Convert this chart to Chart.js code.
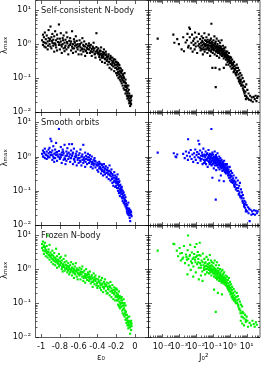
<!DOCTYPE html>
<html><head><meta charset="utf-8">
<script src="https://cdn.jsdelivr.net/npm/chart.js@4.4.1/dist/chart.umd.min.js"></script>
<style>
html,body{margin:0;padding:0;background:#fff;}
#wrap{position:relative;width:261px;height:368px;overflow:hidden;background:#fff;}
#wrap canvas{position:absolute;left:0;}
</style></head><body><div id="wrap"></div>
<script>
// ---------- data ----------
const panelTitles = ['Self-consistent N-body', 'Smooth orbits', 'Frozen N-body'];
const epsTickValues = [-1, -0.8, -0.6, -0.4, -0.2, 0];
const epsTickLabels = ['-1', '-0.8', '-0.6', '-0.4', '-0.2', '0'];
const j2TickValues = [1e-4, 1e-3, 1e-2, 1e-1, 1, 10];
const j2TickLabels = ['10⁻⁴', '10⁻³', '10⁻²', '10⁻¹', '10⁰', '10¹'];
const lamTickValues = [0.01, 0.1, 1, 10];
const lamTickLabels = ['10⁻²', '10⁻¹', '10⁰', '10¹'];
const yTitle = 'λₘₐₓ';
const xTitleEps = 'ε₀';
const xTitleJ2 = 'J₀²';

// Self-consistent N-body: [eps0, lambda_max]
const selfEps = [
[-0.99,1.3],[-0.98,1.9],[-0.98,0.95],[-0.97,1.6],[-0.96,1.1],[-0.96,2.2],[-0.95,1.4],[-0.95,0.8],[-0.94,1.8],[-0.93,1.2],[-0.93,0.7],[-0.92,2.6],[-0.92,1.5],[-0.91,1.0],[-0.90,3.3],[-0.90,0.85],[-0.91,1.25],
[-0.89,1.6],[-0.89,0.75],[-0.88,1.1],[-0.88,2.0],[-0.87,0.9],[-0.87,1.35],[-0.86,0.6],[-0.86,1.7],[-0.85,1.05],[-0.85,2.4],[-0.84,0.8],[-0.84,1.3],[-0.83,1.9],[-0.83,0.65],[-0.82,1.15],[-0.81,3.8],[-0.81,0.95],[-0.80,1.45],[-0.80,0.7],
[-0.79,1.2],[-0.79,2.1],[-0.78,0.85],[-0.78,0.55],[-0.77,1.5],[-0.77,1.0],[-0.76,0.75],[-0.76,1.8],[-0.75,1.1],[-0.75,0.62],[-0.74,1.35],[-0.74,0.9],[-0.73,2.2],[-0.73,0.7],[-0.72,1.05],[-0.72,1.6],[-0.71,0.8],[-0.71,0.5],[-0.70,1.25],
[-0.69,0.95],[-0.69,1.5],[-0.68,0.65],[-0.68,1.2],[-0.67,2.4],[-0.67,0.85],[-0.66,1.0],[-0.66,0.55],[-0.65,1.4],[-0.65,0.75],[-0.64,1.1],[-0.64,0.9],[-0.63,1.7],[-0.63,0.6],[-0.62,0.8],[-0.62,1.25],[-0.61,0.7],[-0.61,1.0],[-0.60,0.5],
[-0.59,0.9],[-0.59,1.3],[-0.58,0.65],[-0.58,0.8],[-0.57,1.1],[-0.57,0.5],[-0.56,0.75],[-0.56,1.5],[-0.55,0.95],[-0.55,0.6],[-0.54,0.7],[-0.54,1.2],[-0.53,0.85],[-0.53,0.45],[-0.52,0.65],[-0.52,1.0],[-0.51,0.78],[-0.51,0.55],[-0.50,0.9],
[-0.49,0.7],[-0.49,1.05],[-0.48,0.55],[-0.48,0.8],[-0.47,0.62],[-0.47,0.95],[-0.46,0.45],[-0.46,0.72],[-0.45,0.85],[-0.45,0.58],[-0.44,0.66],[-0.44,1.1],[-0.43,0.5],[-0.43,0.75],[-0.42,0.6],[-0.42,0.4],[-0.41,0.82],[-0.41,2.1],[-0.40,0.55],[-0.40,0.68],
[-0.39,0.5],[-0.39,0.75],[-0.38,0.42],[-0.38,0.6],[-0.37,0.65],[-0.37,0.35],[-0.36,0.52],[-0.36,0.8],[-0.35,0.45],[-0.35,0.3],[-0.34,0.58],[-0.34,0.4],[-0.33,0.5],[-0.33,0.7],[-0.32,0.36],[-0.32,0.28],[-0.31,0.48],[-0.31,0.6],[-0.30,0.32],[-0.30,0.42],
[-0.29,0.4],[-0.29,0.25],[-0.28,0.5],[-0.28,0.3],[-0.27,0.2],[-0.27,0.38],[-0.26,0.45],[-0.26,0.26],[-0.25,0.33],[-0.25,0.18],[-0.24,0.28],[-0.24,0.4],[-0.23,0.22],[-0.23,0.32],[-0.22,0.16],[-0.22,0.27],[-0.21,0.35],[-0.21,0.2],[-0.20,0.25],[-0.20,0.14],
[-0.195,0.3],[-0.19,0.18],[-0.19,0.12],[-0.185,0.22],[-0.18,0.15],[-0.18,0.28],[-0.175,0.1],[-0.17,0.2],[-0.17,0.13],[-0.165,0.24],[-0.16,0.09],[-0.16,0.16],[-0.155,0.12],[-0.15,0.19],[-0.15,0.08],
[-0.145,0.14],[-0.14,0.07],[-0.14,0.1],[-0.135,0.17],[-0.13,0.06],[-0.13,0.12],[-0.125,0.085],[-0.12,0.05],[-0.12,0.11],[-0.115,0.075],[-0.11,0.14],[-0.11,0.045],[-0.105,0.06],[-0.10,0.09],[-0.10,0.035],
[-0.095,0.07],[-0.09,0.04],[-0.09,0.055],[-0.085,0.03],[-0.08,0.05],[-0.08,0.025],[-0.075,0.04],[-0.07,0.028],[-0.07,0.06],[-0.065,0.022],[-0.06,0.035],[-0.06,0.018],[-0.055,0.03],[-0.05,0.02],[-0.05,0.015],[-0.045,0.026],[-0.04,0.022],[-0.035,0.03],[-0.04,0.017],
[-0.975,1.15],[-0.965,0.85],[-0.945,1.05],[-0.925,0.9],[-0.905,1.4],[-0.885,1.25],[-0.865,1.05],[-0.845,0.95],[-0.825,1.45],[-0.805,1.1],[-0.785,0.95],[-0.765,1.3],[-0.745,0.8],[-0.725,1.15],[-0.705,0.9],[-0.685,1.05],[-0.665,0.75],[-0.645,1.2],[-0.625,0.95],[-0.605,0.85],[-0.585,1.0],[-0.565,0.7],[-0.545,0.88],[-0.525,0.62],[-0.505,0.72],[-0.485,0.9],[-0.465,0.6],[-0.445,0.78],[-0.425,0.52],[-0.405,0.62],[-0.385,0.55],[-0.375,0.48],[-0.365,0.62],[-0.355,0.4],[-0.345,0.5],[-0.335,0.44],[-0.325,0.55],[-0.315,0.38],[-0.305,0.5],[-0.295,0.35],[-0.285,0.44],[-0.275,0.3],[-0.265,0.36],[-0.255,0.4],[-0.245,0.24],[-0.235,0.3],[-0.225,0.36],[-0.215,0.24],[-0.205,0.3],[-0.2,0.2],[-0.19,0.25],[-0.185,0.14],[-0.175,0.18],[-0.17,0.25],[-0.165,0.11],[-0.16,0.2],[-0.155,0.15],[-0.145,0.11],[-0.14,0.16],[-0.135,0.09],[-0.125,0.13],[-0.12,0.08],[-0.115,0.1],[-0.105,0.075],[-0.1,0.055],[-0.095,0.045],[-0.085,0.06],[-0.08,0.035],[-0.075,0.03],[-0.065,0.045],[-0.06,0.025],[-0.055,0.02],[-0.045,0.018],[-0.04,0.028]
];

// Smooth orbits: [eps0, lambda_max]
const smoothEps = [
[-0.99,1.2],[-0.98,1.5],[-0.98,1.0],[-0.97,1.35],[-0.96,0.9],[-0.96,1.7],[-0.95,1.15],[-0.94,1.4],[-0.94,0.85],[-0.93,1.05],[-0.92,1.6],[-0.92,1.25],[-0.91,0.95],[-0.90,3.3],[-0.90,1.1],[-0.91,1.8],
[-0.89,2.8],[-0.89,1.3],[-0.88,0.8],[-0.88,1.5],[-0.87,1.0],[-0.87,2.0],[-0.86,1.2],[-0.86,0.7],[-0.85,1.6],[-0.85,0.9],[-0.84,1.1],[-0.84,2.5],[-0.83,0.75],[-0.83,1.35],[-0.82,1.0],[-0.81,6.4],[-0.81,1.45],[-0.80,0.85],[-0.80,1.15],
[-0.79,1.9],[-0.79,0.95],[-0.78,1.3],[-0.78,0.65],[-0.77,1.1],[-0.77,1.6],[-0.76,0.8],[-0.76,1.25],[-0.75,2.2],[-0.75,0.9],[-0.74,1.05],[-0.74,0.6],[-0.73,1.4],[-0.73,0.75],[-0.72,1.2],[-0.72,1.75],[-0.71,0.85],[-0.70,1.0],[-0.70,2.3],
[-0.69,1.15],[-0.69,0.7],[-0.68,1.5],[-0.68,0.9],[-0.67,2.3],[-0.67,1.05],[-0.66,0.6],[-0.66,1.3],[-0.65,0.85],[-0.65,1.7],[-0.64,1.0],[-0.64,0.7],[-0.63,1.2],[-0.63,0.95],[-0.62,0.55],[-0.62,1.4],[-0.61,0.8],[-0.60,1.1],[-0.60,0.65],
[-0.59,0.9],[-0.59,1.25],[-0.58,0.7],[-0.58,1.6],[-0.57,1.0],[-0.57,0.55],[-0.56,0.8],[-0.56,1.15],[-0.55,2.2],[-0.55,0.65],[-0.54,0.95],[-0.54,0.75],[-0.53,1.3],[-0.53,0.5],[-0.52,0.85],[-0.52,1.05],[-0.51,0.6],[-0.50,0.8],[-0.50,1.2],
[-0.49,0.65],[-0.49,0.95],[-0.48,0.75],[-0.48,1.1],[-0.47,0.5],[-0.47,0.85],[-0.46,0.6],[-0.46,1.0],[-0.45,0.7],[-0.45,0.45],[-0.44,0.8],[-0.44,0.55],[-0.43,0.9],[-0.43,0.62],[-0.42,0.48],[-0.42,0.72],[-0.41,0.58],[-0.40,0.4],[-0.40,0.66],
[-0.39,0.55],[-0.39,0.36],[-0.38,0.7],[-0.38,0.45],[-0.37,0.5],[-0.37,0.62],[-0.36,0.32],[-0.36,0.42],[-0.35,0.56],[-0.35,0.38],[-0.34,0.48],[-0.34,0.28],[-0.33,0.6],[-0.33,0.35],[-0.32,0.44],[-0.32,0.3],[-0.31,0.52],[-0.30,0.25],[-0.30,0.4],
[-0.29,0.34],[-0.29,0.47],[-0.28,0.22],[-0.28,0.38],[-0.27,0.3],[-0.27,0.55],[-0.26,0.2],[-0.26,0.36],[-0.25,0.26],[-0.25,0.42],[-0.24,0.17],[-0.24,0.31],[-0.23,0.24],[-0.23,0.14],[-0.22,0.35],[-0.22,0.2],[-0.21,0.28],[-0.21,0.13],[-0.20,0.22],[-0.20,0.17],
[-0.195,0.25],[-0.19,0.12],[-0.19,0.18],[-0.185,0.3],[-0.18,0.1],[-0.18,0.16],[-0.175,0.22],[-0.17,0.085],[-0.17,0.14],[-0.165,0.19],[-0.16,0.11],[-0.16,0.07],[-0.155,0.15],[-0.15,0.09],[-0.15,0.12],
[-0.145,0.1],[-0.14,0.065],[-0.14,0.13],[-0.135,0.08],[-0.13,0.05],[-0.13,0.1],[-0.125,0.07],[-0.12,0.045],[-0.12,0.09],[-0.115,0.06],[-0.11,0.04],[-0.11,0.075],[-0.105,0.055],[-0.10,0.035],[-0.10,0.065],
[-0.095,0.05],[-0.09,0.03],[-0.09,0.042],[-0.085,0.025],[-0.08,0.038],[-0.08,0.022],[-0.075,0.03],[-0.07,0.02],[-0.07,0.045],[-0.065,0.026],[-0.06,0.019],[-0.06,0.03],[-0.055,0.022],[-0.05,0.013],[-0.05,0.027],[-0.045,0.02],[-0.04,0.024],[-0.035,0.018],
[-0.975,1.0],[-0.965,1.25],[-0.945,1.1],[-0.925,0.95],[-0.905,1.35],[-0.885,1.1],[-0.865,0.9],[-0.845,1.3],[-0.825,1.15],[-0.805,0.95],[-0.785,1.1],[-0.765,1.4],[-0.745,0.85],[-0.725,1.05],[-0.705,1.3],[-0.685,0.9],[-0.665,1.2],[-0.645,0.8],[-0.625,1.05],[-0.605,0.9],[-0.585,0.75],[-0.565,1.0],[-0.545,0.85],[-0.525,0.7],[-0.505,0.95],[-0.485,0.8],[-0.465,0.7],[-0.445,0.62],[-0.425,0.75],[-0.405,0.55],[-0.385,0.6],[-0.375,0.5],[-0.365,0.45],[-0.355,0.6],[-0.345,0.4],[-0.335,0.5],[-0.325,0.38],[-0.315,0.45],[-0.305,0.33],[-0.295,0.4],[-0.285,0.3],[-0.275,0.38],[-0.265,0.28],[-0.255,0.33],[-0.245,0.22],[-0.235,0.28],[-0.225,0.18],[-0.215,0.24],[-0.205,0.19],[-0.2,0.14],[-0.19,0.21],[-0.185,0.15],[-0.175,0.12],[-0.17,0.18],[-0.165,0.09],[-0.16,0.14],[-0.155,0.1],[-0.145,0.08],[-0.14,0.11],[-0.135,0.06],[-0.125,0.085],[-0.12,0.06],[-0.115,0.045],[-0.105,0.05],[-0.1,0.042],[-0.095,0.035],[-0.085,0.032],[-0.08,0.028],[-0.075,0.022],[-0.065,0.03],[-0.06,0.024],[-0.055,0.016],[-0.045,0.025],[-0.04,0.02]
];

// Frozen N-body: [eps0, lambda_max]
const frozenEps = [
[-0.99,5.5],[-0.99,4.2],[-0.98,6.5],[-0.98,3.6],[-0.97,5.0],[-0.97,2.8],[-0.96,4.5],[-0.96,6.0],[-0.95,3.3],[-0.95,2.4],[-0.94,4.8],[-0.94,3.0],[-0.93,9.8],[-0.93,2.2],[-0.92,3.8],[-0.92,2.6],[-0.91,5.2],[-0.91,1.9],[-0.90,3.1],[-0.90,2.3],
[-0.89,2.7],[-0.89,1.6],[-0.88,3.5],[-0.88,2.0],[-0.87,1.4],[-0.87,2.5],[-0.86,1.8],[-0.86,3.0],[-0.85,1.3],[-0.85,2.2],[-0.84,1.6],[-0.84,4.0],[-0.83,2.4],[-0.83,1.1],[-0.82,1.9],[-0.82,1.45],[-0.81,2.8],[-0.81,1.2],[-0.80,1.7],[-0.80,2.1],
[-0.79,1.5],[-0.79,2.3],[-0.78,1.0],[-0.78,1.8],[-0.77,1.3],[-0.77,0.85],[-0.76,2.0],[-0.76,1.15],[-0.75,1.6],[-0.75,0.9],[-0.74,1.35],[-0.74,2.5],[-0.73,1.0],[-0.73,1.7],[-0.72,0.8],[-0.72,1.25],[-0.71,1.5],[-0.71,0.95],[-0.70,1.1],[-0.70,0.7],
[-0.69,1.3],[-0.69,0.8],[-0.68,1.6],[-0.68,0.95],[-0.67,1.1],[-0.67,0.65],[-0.66,1.4],[-0.66,0.85],[-0.65,1.0],[-0.65,0.55],[-0.64,1.2],[-0.64,0.75],[-0.63,0.9],[-0.63,1.5],[-0.62,0.6],[-0.62,1.05],[-0.61,0.8],[-0.61,0.5],[-0.60,0.95],[-0.60,0.7],
[-0.59,1.1],[-0.59,0.65],[-0.58,0.85],[-0.58,0.5],[-0.57,1.0],[-0.57,0.7],[-0.56,0.6],[-0.56,1.2],[-0.55,0.8],[-0.55,0.45],[-0.54,0.9],[-0.54,0.62],[-0.53,0.72],[-0.53,0.4],[-0.52,0.55],[-0.52,1.0],[-0.51,0.68],[-0.51,0.48],[-0.50,0.8],[-0.50,0.58],
[-0.49,0.7],[-0.49,0.45],[-0.48,0.6],[-0.48,0.85],[-0.47,0.5],[-0.47,0.38],[-0.46,0.66],[-0.46,0.42],[-0.45,0.55],[-0.45,0.3],[-0.44,0.75],[-0.44,0.48],[-0.43,0.36],[-0.43,0.58],[-0.42,0.45],[-0.42,0.65],[-0.41,0.33],[-0.41,0.52],[-0.40,0.4],[-0.40,0.28],
[-0.39,0.5],[-0.39,0.32],[-0.38,0.42],[-0.38,0.6],[-0.37,0.28],[-0.37,0.38],[-0.36,0.47],[-0.36,0.24],[-0.35,0.35],[-0.35,0.55],[-0.34,0.3],[-0.34,0.21],[-0.33,0.42],[-0.33,0.27],[-0.32,0.36],[-0.32,0.5],[-0.31,0.23],[-0.31,0.32],[-0.30,0.4],[-0.30,0.19],
[-0.29,0.3],[-0.29,0.2],[-0.28,0.38],[-0.28,0.25],[-0.27,0.17],[-0.27,0.32],[-0.26,0.22],[-0.26,0.42],[-0.25,0.27],[-0.25,0.15],[-0.24,0.2],[-0.24,0.34],[-0.23,0.13],[-0.23,0.24],[-0.22,0.29],[-0.22,0.18],[-0.21,0.22],[-0.21,0.12],[-0.20,0.16],[-0.20,0.27],
[-0.195,0.2],[-0.19,0.12],[-0.19,0.25],[-0.185,0.15],[-0.18,0.09],[-0.18,0.18],[-0.175,0.13],[-0.17,0.22],[-0.17,0.08],[-0.165,0.11],[-0.16,0.16],[-0.16,0.07],[-0.155,0.1],[-0.15,0.14],[-0.15,0.075],
[-0.145,0.12],[-0.14,0.08],[-0.14,0.15],[-0.135,0.06],[-0.13,0.1],[-0.13,0.05],[-0.125,0.085],[-0.12,0.13],[-0.12,0.045],[-0.115,0.07],[-0.11,0.1],[-0.11,0.04],[-0.105,0.06],[-0.10,0.085],[-0.10,0.032],
[-0.095,0.055],[-0.09,0.035],[-0.09,0.026],[-0.085,0.045],[-0.08,0.03],[-0.08,0.022],[-0.075,0.038],[-0.07,0.025],[-0.07,0.018],[-0.065,0.03],[-0.06,0.022],[-0.06,0.04],[-0.055,0.027],[-0.05,0.019],[-0.05,0.0125],[-0.045,0.024],[-0.04,0.03],[-0.04,0.016],[-0.035,0.021],
[-0.975,4.5],[-0.965,3.4],[-0.955,4.0],[-0.945,3.6],[-0.935,2.9],[-0.925,3.2],[-0.915,2.7],[-0.905,2.5],[-0.895,2.2],[-0.885,2.6],[-0.875,1.9],[-0.865,2.2],[-0.855,1.7],[-0.845,2.0],[-0.835,1.8],[-0.825,1.55],[-0.815,1.7],[-0.805,1.35],[-0.795,1.3],[-0.785,1.55],[-0.775,1.15],[-0.765,1.4],[-0.755,1.2],[-0.745,1.05],[-0.735,1.3],[-0.725,1.1],[-0.715,0.9],[-0.705,1.2],[-0.695,1.0],[-0.685,0.85],[-0.675,0.95],[-0.665,1.1],[-0.655,0.78],[-0.645,0.9],[-0.635,0.7],[-0.625,0.85],[-0.615,0.95],[-0.605,0.75],[-0.585,0.75],[-0.565,0.82],[-0.545,0.55],[-0.525,0.62],[-0.505,0.7],[-0.485,0.52],[-0.465,0.58],[-0.445,0.42],[-0.425,0.5],[-0.405,0.38],[-0.385,0.44],[-0.365,0.33],[-0.345,0.38],[-0.325,0.3],[-0.305,0.34],[-0.285,0.26],[-0.265,0.3],[-0.245,0.23],[-0.225,0.2],[-0.215,0.25],[-0.205,0.15],[-0.195,0.17],[-0.185,0.12],[-0.175,0.16],[-0.165,0.14],[-0.155,0.09],[-0.145,0.1],[-0.135,0.12],[-0.125,0.065],[-0.115,0.085],[-0.105,0.05],[-0.095,0.045],[-0.085,0.035],[-0.075,0.028],[-0.065,0.022],[-0.055,0.02],[-0.045,0.028],[-0.035,0.025]
];

// Self-consistent N-body: [J0^2, lambda_max]
const selfJ2 = [
[5.6e-5,1.45],[4.7e-4,1.9],[5.4e-4,1.1],[8e-4,1.4],[1e-3,1.0],[1.45e-3,0.7],[1.8e-3,1.6],[2e-3,0.62],[2.5e-3,1.12],[3.2e-3,2.0],[4.1e-3,3.1],[4.5e-3,2.8],[3.5e-3,0.8],
[3e-3,1.3],[3.8e-3,0.9],[4.4e-3,1.6],[5e-3,0.75],[5.5e-3,1.1],[6e-3,1.9],[6.5e-3,0.6],[7e-3,1.25],[7.5e-3,0.95],[8e-3,1.45],[8.5e-3,0.7],[9e-3,2.2],[9.5e-3,1.05],[0.010,0.85],[0.011,1.6],[0.012,0.55],[0.013,1.2],[0.014,0.9],[0.015,2.0],[0.016,1.0],
[0.017,0.8],[0.018,1.4],[0.019,0.65],[0.02,1.1],[0.021,0.9],[0.022,1.7],[0.023,0.7],[0.024,1.25],[0.025,0.95],[0.026,0.5],[0.027,1.5],[0.028,0.8],[0.03,1.05],[0.032,2.1],[0.033,0.6],[0.035,1.3],[0.036,0.85],[0.038,1.0],[0.04,0.7],[0.042,1.6],[0.044,0.9],[0.046,1.15],[0.048,0.55],[0.05,1.35],[0.052,0.8],[0.055,0.95],[0.058,1.9],[0.06,0.65],[0.062,1.1],[0.065,0.75],[0.068,1.3],[0.07,0.45],[0.072,0.9],[0.075,1.05],[0.078,1.45],[0.08,0.6],[0.083,4.0],[0.085,0.8],[0.088,1.2],[0.09,0.7],[0.095,0.95],
[0.1,1.1],[0.1,0.55],[0.105,0.8],[0.11,1.3],[0.115,0.65],[0.12,0.9],[0.125,1.7],[0.13,0.5],[0.135,1.0],[0.14,0.75],[0.145,0.2],[0.15,1.2],[0.155,0.6],[0.16,0.85],[0.17,1.45],[0.175,0.45],[0.18,0.7],[0.19,1.0],[0.2,0.55],[0.21,0.8],[0.22,1.25],[0.23,0.65],[0.24,0.4],[0.25,0.9],[0.26,0.6],[0.27,1.1],[0.28,0.75],[0.29,0.5],[0.3,0.85],[0.32,0.65],[0.33,1.3],[0.35,0.45],[0.36,0.7],[0.38,0.55],[0.4,0.9],[0.42,0.6],[0.44,0.38],[0.46,0.75],[0.48,0.5],[0.5,0.65],[0.52,0.42],[0.55,0.8],[0.58,0.55],[0.6,0.35],[0.62,0.6],
[0.15,0.054],[0.095,0.2],[0.25,0.18],[0.45,0.2],[0.63,0.25],
[0.65,0.5],[0.7,0.38],[0.72,0.6],[0.75,0.3],[0.8,0.45],[0.85,0.25],[0.9,0.55],[0.95,0.35],[1.0,0.28],[1.05,0.42],[1.1,0.22],[1.15,0.32],[1.2,0.4],[1.3,0.19],[1.35,0.28],[1.4,0.35],[1.5,0.2],[1.6,0.26],[1.7,0.15],[1.8,0.3],[1.9,0.18],[2.0,0.23],[2.2,0.14],[2.4,0.2],
[2.5,0.12],[2.6,0.25],[2.8,0.16],[3.0,0.1],[3.1,0.2],[3.3,0.13],[3.5,0.08],[3.6,0.17],[3.8,0.11],[4.0,0.07],[4.2,0.14],[4.5,0.09],[4.8,0.06],[5.0,0.12],[5.5,0.075],[5.8,0.1],
[6.2,0.06],[6.5,0.045],[7.0,0.08],[7.5,0.035],[8.0,0.055],[8.5,0.04],[9,0.03],[9.5,0.065],[10,0.028],[11,0.045],[12,0.025],[13,0.035],[14,0.023],
[16,0.03],[18,0.022],[20,0.027],[23,0.02],[26,0.028],[30,0.024],[34,0.03],[38,0.021],[42,0.026],[46,0.029],
[0.02,0.75],[0.025,1.15],[0.03,0.7],[0.034,0.95],[0.04,1.25],[0.045,0.75],[0.05,0.95],[0.055,0.7],[0.06,1.2],[0.065,0.9],[0.07,1.1],[0.075,0.65],[0.08,0.85],[0.085,1.05],[0.09,0.9],[0.1,0.75],[0.11,0.95],[0.12,0.7],[0.13,0.85],[0.14,1.1],[0.15,0.8],[0.16,0.65],[0.17,0.9],[0.18,0.8],[0.19,0.6],[0.2,0.85],[0.21,0.65],[0.22,0.75],[0.24,0.55],[0.25,0.7],[0.27,0.8],[0.28,0.5],[0.3,0.65],[0.32,0.75],[0.34,0.55],[0.36,0.6],[0.38,0.7],[0.4,0.5],[0.42,0.62],[0.45,0.55],[0.48,0.45],[0.5,0.55],[0.55,0.5],[0.6,0.45],[0.65,0.4],[0.7,0.48],[0.75,0.4],[0.8,0.35],[0.85,0.42],[0.9,0.32],[1.0,0.38],[1.1,0.28],[1.2,0.3],[1.3,0.25],[1.45,0.24],[1.6,0.2],[1.75,0.22],[1.9,0.16],[2.1,0.18],[2.3,0.13],[2.7,0.15],[3.2,0.1],[3.7,0.09],[4.3,0.08],[5,0.065],[6,0.05],[7,0.04],[8,0.03],[9,0.024]
];

// Smooth orbits: [J0^2, lambda_max]
const smoothJ2 = [
[5.6e-5,1.3],[5e-4,1.25],[6.3e-4,1.0],[8e-4,1.15],[7e-4,0.95],[3.5e-3,3.2],[0.083,6.4],[0.014,2.9],
[1.8e-3,1.2],[2.2e-3,0.9],[2.6e-3,1.4],[3e-3,1.05],[3.4e-3,0.8],[3.9e-3,1.3],[4.5e-3,1.0],[5e-3,1.55],[5.6e-3,0.85],[6.3e-3,1.15],[7e-3,0.7],[7.8e-3,1.25],[8.5e-3,0.95],[9.3e-3,1.6],[0.01,0.8],[0.011,1.1],[0.012,1.35],[0.013,0.65],[0.014,0.95],[0.015,1.2],[0.016,2.3],
[0.017,0.9],[0.018,1.5],[0.019,0.75],[0.02,1.05],[0.022,0.85],[0.023,1.3],[0.025,0.6],[0.026,1.0],[0.028,1.7],[0.03,0.8],[0.032,1.15],[0.034,0.7],[0.036,0.95],[0.038,1.4],[0.04,0.6],[0.042,1.1],[0.045,0.85],[0.048,1.25],[0.05,0.5],[0.053,0.95],[0.056,1.55],[0.06,0.7],[0.063,1.0],[0.066,0.8],[0.07,1.2],[0.074,0.6],[0.078,0.9],[0.082,1.05],[0.086,0.55],[0.09,0.75],[0.095,1.3],
[0.1,0.9],[0.1,0.6],[0.105,1.15],[0.11,0.7],[0.115,0.45],[0.12,1.0],[0.125,0.8],[0.13,1.4],[0.135,0.55],[0.14,0.9],[0.15,0.65],[0.155,1.1],[0.16,0.4],[0.17,0.75],[0.175,0.95],[0.18,0.55],[0.19,1.25],[0.2,0.7],[0.21,0.48],[0.22,0.85],[0.23,0.6],[0.24,1.0],[0.25,0.42],[0.26,0.72],[0.27,0.55],[0.28,0.9],[0.3,0.65],[0.32,0.45],[0.33,0.8],[0.35,0.55],[0.37,0.38],[0.39,0.7],[0.41,0.5],[0.43,0.62],[0.45,0.4],[0.47,0.75],[0.5,0.5],[0.52,0.35],[0.55,0.6],[0.58,0.45],[0.6,0.32],[0.62,0.55],
[0.15,0.055],[0.095,0.24],[0.24,0.2],[0.45,0.19],[0.3,0.28],
[0.65,0.45],[0.68,0.6],[0.72,0.35],[0.76,0.5],[0.8,0.28],[0.85,0.42],[0.9,0.24],[0.95,0.36],[1.0,0.5],[1.05,0.2],[1.1,0.3],[1.2,0.38],[1.25,0.18],[1.3,0.26],[1.4,0.33],[1.5,0.17],[1.6,0.23],[1.7,0.28],[1.8,0.15],[1.9,0.2],[2.0,0.13],[2.2,0.18],[2.4,0.24],
[2.6,0.15],[2.8,0.1],[3.0,0.2],[3.2,0.12],[3.4,0.08],[3.6,0.14],[3.8,0.09],[4.0,0.17],[4.3,0.07],[4.6,0.11],[5.0,0.06],[5.3,0.09],[5.7,0.05],[6.0,0.075],
[6.5,0.06],[7.0,0.04],[7.5,0.05],[8.0,0.032],[8.6,0.045],[9.2,0.028],[10,0.038],[11,0.025],[12,0.033],[13,0.022],[14,0.03],[15,0.013],
[17,0.028],[19,0.02],[21,0.025],[24,0.021],[27,0.027],[31,0.02],[35,0.026],[40,0.022],[45,0.025],
[0.02,0.85],[0.025,1.1],[0.03,0.65],[0.034,1.05],[0.04,0.8],[0.045,1.2],[0.05,0.75],[0.055,0.9],[0.06,1.1],[0.065,0.6],[0.07,0.85],[0.075,1.0],[0.08,0.7],[0.085,0.9],[0.09,1.15],[0.1,0.8],[0.11,0.95],[0.12,0.65],[0.13,0.85],[0.14,0.7],[0.15,1.0],[0.16,0.8],[0.17,0.6],[0.18,0.85],[0.19,0.7],[0.2,0.55],[0.21,0.8],[0.22,0.65],[0.24,0.75],[0.25,0.6],[0.27,0.68],[0.28,0.5],[0.3,0.75],[0.32,0.6],[0.34,0.5],[0.36,0.65],[0.38,0.55],[0.4,0.6],[0.42,0.45],[0.45,0.55],[0.48,0.5],[0.5,0.42],[0.55,0.48],[0.6,0.4],[0.65,0.36],[0.7,0.42],[0.75,0.33],[0.8,0.38],[0.85,0.3],[0.9,0.35],[1.0,0.28],[1.1,0.24],[1.2,0.27],[1.3,0.21],[1.45,0.2],[1.6,0.18],[1.75,0.19],[1.9,0.14],[2.1,0.16],[2.3,0.11],[2.7,0.12],[3.2,0.1],[3.7,0.075],[4.3,0.065],[5,0.07],[6,0.045],[7,0.035],[8,0.04],[9,0.025]
];

// Frozen N-body: [J0^2, lambda_max]
const frozenJ2 = [
[5.6e-5,3.5],[4.7e-4,5.6],[5.4e-4,5.4],[3.5e-3,9.8],
[7.5e-4,3.5],[9e-4,2.4],[1.1e-3,4.2],[1.3e-3,1.8],[1.5e-3,3.0],[1.8e-3,2.2],[2e-3,4.8],[2.3e-3,1.5],[2.6e-3,2.7],[3e-3,1.9],[3.3e-3,3.6],[3.8e-3,1.3],[4.2e-3,2.4],[4.7e-3,5.2],[5.2e-3,1.7],[5.8e-3,3.1],[6.5e-3,2.0],[7.2e-3,1.2],[8e-3,2.8],[8.8e-3,4.5],[9.5e-3,1.6],[0.01,2.3],[0.011,5.5],[0.012,1.4],[0.013,3.2],[0.014,2.0],[0.015,1.1],[0.016,2.6],[0.017,6.0],
[3.2e-3,0.7],[5e-3,0.95],[7e-3,0.6],[0.01,0.8],[0.015,0.5],[0.02,0.65],[0.025,0.45],
[0.018,1.5],[0.019,2.5],[0.02,1.1],[0.022,1.8],[0.024,0.85],[0.026,2.9],[0.028,1.3],[0.03,0.95],[0.032,2.0],[0.034,1.2],[0.036,0.7],[0.038,1.6],[0.04,1.0],[0.043,2.3],[0.046,0.8],[0.05,1.4],[0.053,1.9],[0.056,1.1],[0.06,0.75],[0.063,1.5],[0.067,2.6],[0.07,0.9],[0.074,1.25],[0.078,1.8],[0.082,0.65],[0.086,1.05],[0.09,1.6],[0.095,0.85],
[0.1,1.2],[0.105,0.75],[0.11,1.5],[0.115,0.95],[0.12,0.6],[0.125,1.1],[0.13,1.8],[0.135,0.8],[0.14,1.0],[0.15,0.55],[0.155,1.3],[0.16,0.7],[0.17,0.9],[0.175,1.6],[0.18,0.5],[0.19,0.8],[0.2,1.05],[0.21,0.62],[0.22,0.9],[0.23,1.3],[0.24,0.45],[0.25,0.75],[0.26,0.58],[0.27,1.0],[0.28,0.68],[0.3,0.5],[0.32,0.85],[0.33,0.4],[0.35,0.65],[0.37,0.95],[0.39,0.5],[0.41,0.72],[0.43,0.38],[0.45,0.6],[0.47,0.8],[0.5,0.45],[0.52,0.55],[0.55,0.35],[0.58,0.65],[0.6,0.42],[0.62,0.5],
[0.15,0.055],[0.2,0.2],[0.12,0.25],[0.35,0.18],
[0.65,0.4],[0.7,0.6],[0.74,0.3],[0.78,0.48],[0.82,0.25],[0.86,0.38],[0.9,0.55],[0.95,0.22],[1.0,0.33],[1.05,0.42],[1.1,0.18],[1.15,0.28],[1.2,0.36],[1.3,0.15],[1.35,0.24],[1.4,0.3],[1.5,0.13],[1.6,0.2],[1.7,0.26],[1.8,0.12],[1.9,0.17],[2.0,0.22],[2.2,0.11],[2.4,0.15],
[2.6,0.2],[2.8,0.12],[3.0,0.16],[3.2,0.09],[3.4,0.13],[3.7,0.07],[4.0,0.11],[4.3,0.06],[4.6,0.09],[5.0,0.05],[5.4,0.08],[5.8,0.055],
[6.5,0.05],[7.2,0.035],[8,0.045],[9,0.032],[10,0.04],[11,0.03],
[4.5,0.03],[5.5,0.025],[7,0.022],[9,0.028],[12,0.02],[15,0.026],[18,0.022],[22,0.03],[26,0.024],[30,0.02],[35,0.027],[40,0.023],
[0.02,1.3],[0.025,1.6],[0.03,1.1],[0.034,1.5],[0.04,1.25],[0.045,1.0],[0.05,1.15],[0.055,1.35],[0.06,0.95],[0.065,1.2],[0.07,1.05],[0.075,0.8],[0.08,1.0],[0.085,1.3],[0.09,0.9],[0.1,0.95],[0.11,0.8],[0.12,1.0],[0.13,0.7],[0.14,0.85],[0.15,0.95],[0.16,0.6],[0.17,0.8],[0.18,0.7],[0.19,0.55],[0.2,0.75],[0.21,0.85],[0.22,0.55],[0.24,0.65],[0.25,0.5],[0.27,0.6],[0.28,0.75],[0.3,0.55],[0.32,0.45],[0.34,0.6],[0.36,0.5],[0.38,0.42],[0.4,0.55],[0.42,0.45],[0.45,0.5],[0.48,0.4],[0.5,0.38],[0.55,0.45],[0.6,0.35],[0.65,0.32],[0.7,0.4],[0.75,0.28],[0.8,0.33],[0.85,0.27],[0.9,0.3],[1.0,0.25],[1.1,0.22],[1.2,0.2],[1.3,0.19],[1.45,0.17],[1.6,0.15],[1.75,0.14],[1.9,0.12],[2.1,0.13],[2.3,0.1],[2.7,0.1],[3.2,0.08],[3.7,0.065],[4.3,0.05],[5,0.04],[6,0.038],
[1.2e-3,2.9],[1.6e-3,2.0],[2.8e-3,2.3],[3.6e-3,2.0],[4.5e-3,2.6],[6e-3,1.5],[7.5e-3,2.2],[9e-3,1.9],[0.012,2.5],[0.014,1.6]
];

const seriesColors = ['#000000', '#0000ff', '#00ee00'];
const panelData = [[selfEps, selfJ2], [smoothEps, smoothJ2], [frozenEps, frozenJ2]];

// ---------- layout ----------
const W = 261, H = 368, OFF = 20;
const colBox = [[35, 148], [148, 260]];
const rowBox = [[0, 112], [112, 225], [225, 337]];
const FONT = "'DejaVu Sans', 'Liberation Sans', sans-serif";
Chart.defaults.font.family = FONT;
Chart.defaults.font.size = 8.3;
Chart.defaults.color = '#111';

function minorLog(lo, hi) {
  const out = [];
  for (let e = lo; e <= hi; e++) for (let k = 2; k <= 9; k++) out.push(k * Math.pow(10, e));
  return out;
}
const yMinor = minorLog(-3, 1);
const j2Minor = minorLog(-6, 2);

const framePlugin = {
  id: 'frame',
  afterDatasetsDraw(chart, args, opts) {
    const {ctx, chartArea: a, scales: {x, y}} = chart;
    ctx.save();
    ctx.strokeStyle = 'rgba(0,0,0,0.62)';
    ctx.lineWidth = 1;
    ctx.beginPath();
    ctx.rect(a.left + 0.5, a.top + 0.5, a.right - a.left, a.bottom - a.top);
    ctx.stroke();
    ctx.beginPath();
    const hTick = (v, len) => {
      const p = y.getPixelForValue(v);
      if (p < a.top - 0.1 || p > a.bottom + 0.1) return;
      const py = Math.round(p) + 0.5;
      ctx.moveTo(a.left + 0.5, py); ctx.lineTo(a.left + 0.5 + len, py);
      ctx.moveTo(a.right + 0.5, py); ctx.lineTo(a.right + 0.5 - len, py);
    };
    const vTick = (v, len) => {
      const p = x.getPixelForValue(v);
      if (p < a.left - 0.1 || p > a.right + 0.1) return;
      const px = Math.round(p) + 0.5;
      ctx.moveTo(px, a.bottom + 0.5); ctx.lineTo(px, a.bottom + 0.5 - len);
      ctx.moveTo(px, a.top + 0.5); ctx.lineTo(px, a.top + 0.5 + len);
    };
    lamTickValues.forEach(v => hTick(v, 3.5));
    yMinor.forEach(v => hTick(v, 2));
    if (opts.col === 0) {
      epsTickValues.forEach(v => vTick(v, 3.5));
    } else {
      j2TickValues.forEach(v => vTick(v, 3.5));
      j2Minor.forEach(v => vTick(v, 2));
    }
    ctx.stroke();
    if (opts.title) {
      ctx.font = '8.3px ' + FONT;
      ctx.fillStyle = '#222';
      ctx.textBaseline = 'middle';
      ctx.textAlign = 'left';
      ctx.fillText(opts.title, a.left + 6, a.top + 10.5);
    }
    ctx.restore();
  }
};

const wrap = document.getElementById('wrap');
for (let r = 0; r < 3; r++) {
  for (let c = 0; c < 2; c++) {
    const cv = document.createElement('canvas');
    cv.width = W; cv.height = H + OFF;
    cv.style.width = W + 'px'; cv.style.height = (H + OFF) + 'px';
    cv.style.top = (-OFF) + 'px';
    wrap.appendChild(cv);
    const showY = c === 0, showX = r === 2;
    const xScale = c === 0 ? {
      type: 'linear', min: -1.065, max: 0.14,
      afterBuildTicks: s => { s.ticks = epsTickValues.map(v => ({value: v})); },
      ticks: {callback: (v) => { const i = epsTickValues.findIndex(t => Math.abs(t - v) < 1e-9); return i >= 0 ? epsTickLabels[i] : ''; }}
    } : {
      type: 'logarithmic', min: 1.5e-5, max: 57.5,
      afterBuildTicks: s => { s.ticks = j2TickValues.map(v => ({value: v})); },
      ticks: {callback: (v) => { const i = j2TickValues.findIndex(t => Math.abs(Math.log10(t) - Math.log10(v)) < 1e-6); return i >= 0 ? j2TickLabels[i] : ''; }}
    };
    Object.assign(xScale, {
      display: showX,
      grid: {display: false, drawTicks: false},
      border: {display: false}
    });
    if (showX) xScale.afterFit = s => { s.height = H - rowBox[2][1]; };
    xScale.ticks = Object.assign(xScale.ticks, {padding: 5, autoSkip: false, maxRotation: 0, color: '#111', font: {size: 8.3}});
    xScale.title = {display: true, text: c === 0 ? '       ' + xTitleEps : xTitleJ2, padding: {top: 0, bottom: 5}, color: '#111', font: {size: 8.5}};

    const yScale = {
      type: 'logarithmic', min: 0.01, max: 20,
      display: showY,
      grid: {display: false, drawTicks: false},
      border: {display: false},
      afterBuildTicks: s => { s.ticks = lamTickValues.map(v => ({value: v})); },
      ticks: {padding: 4, autoSkip: false, color: '#111', font: {size: 8.3},
        callback: (v) => { const i = lamTickValues.findIndex(t => Math.abs(Math.log10(t) - Math.log10(v)) < 1e-6); return i >= 0 ? lamTickLabels[i] : ''; }},
      title: {display: true, text: '        ' + yTitle, padding: {top: 0, bottom: 0}, color: '#111', font: {size: 8.5}}
    };
    if (showY) yScale.afterFit = s => { s.width = colBox[0][0]; };

    new Chart(cv, {
      type: 'scatter',
      data: {datasets: [{
        data: panelData[r][c].map(p => ({x: p[0], y: p[1]})),
        backgroundColor: seriesColors[r],
        borderWidth: 0,
        pointStyle: 'rect',
        pointRadius: 1.5,
        pointHoverRadius: 1.5
      }]},
      options: {
        responsive: false, animation: false, devicePixelRatio: 1, events: [],
        layout: {padding: {
          left: c === 0 ? 0 : colBox[1][0],
          right: W - colBox[c][1],
          top: rowBox[r][0] + OFF,
          bottom: r === 2 ? 0 : H - rowBox[r][1]
        }},
        plugins: {legend: {display: false}, tooltip: {enabled: false}, frame: {col: c, title: c === 0 ? panelTitles[r] : ''}},
        scales: {x: xScale, y: yScale}
      },
      plugins: [framePlugin]
    });
  }
}
</script>
</body></html>
